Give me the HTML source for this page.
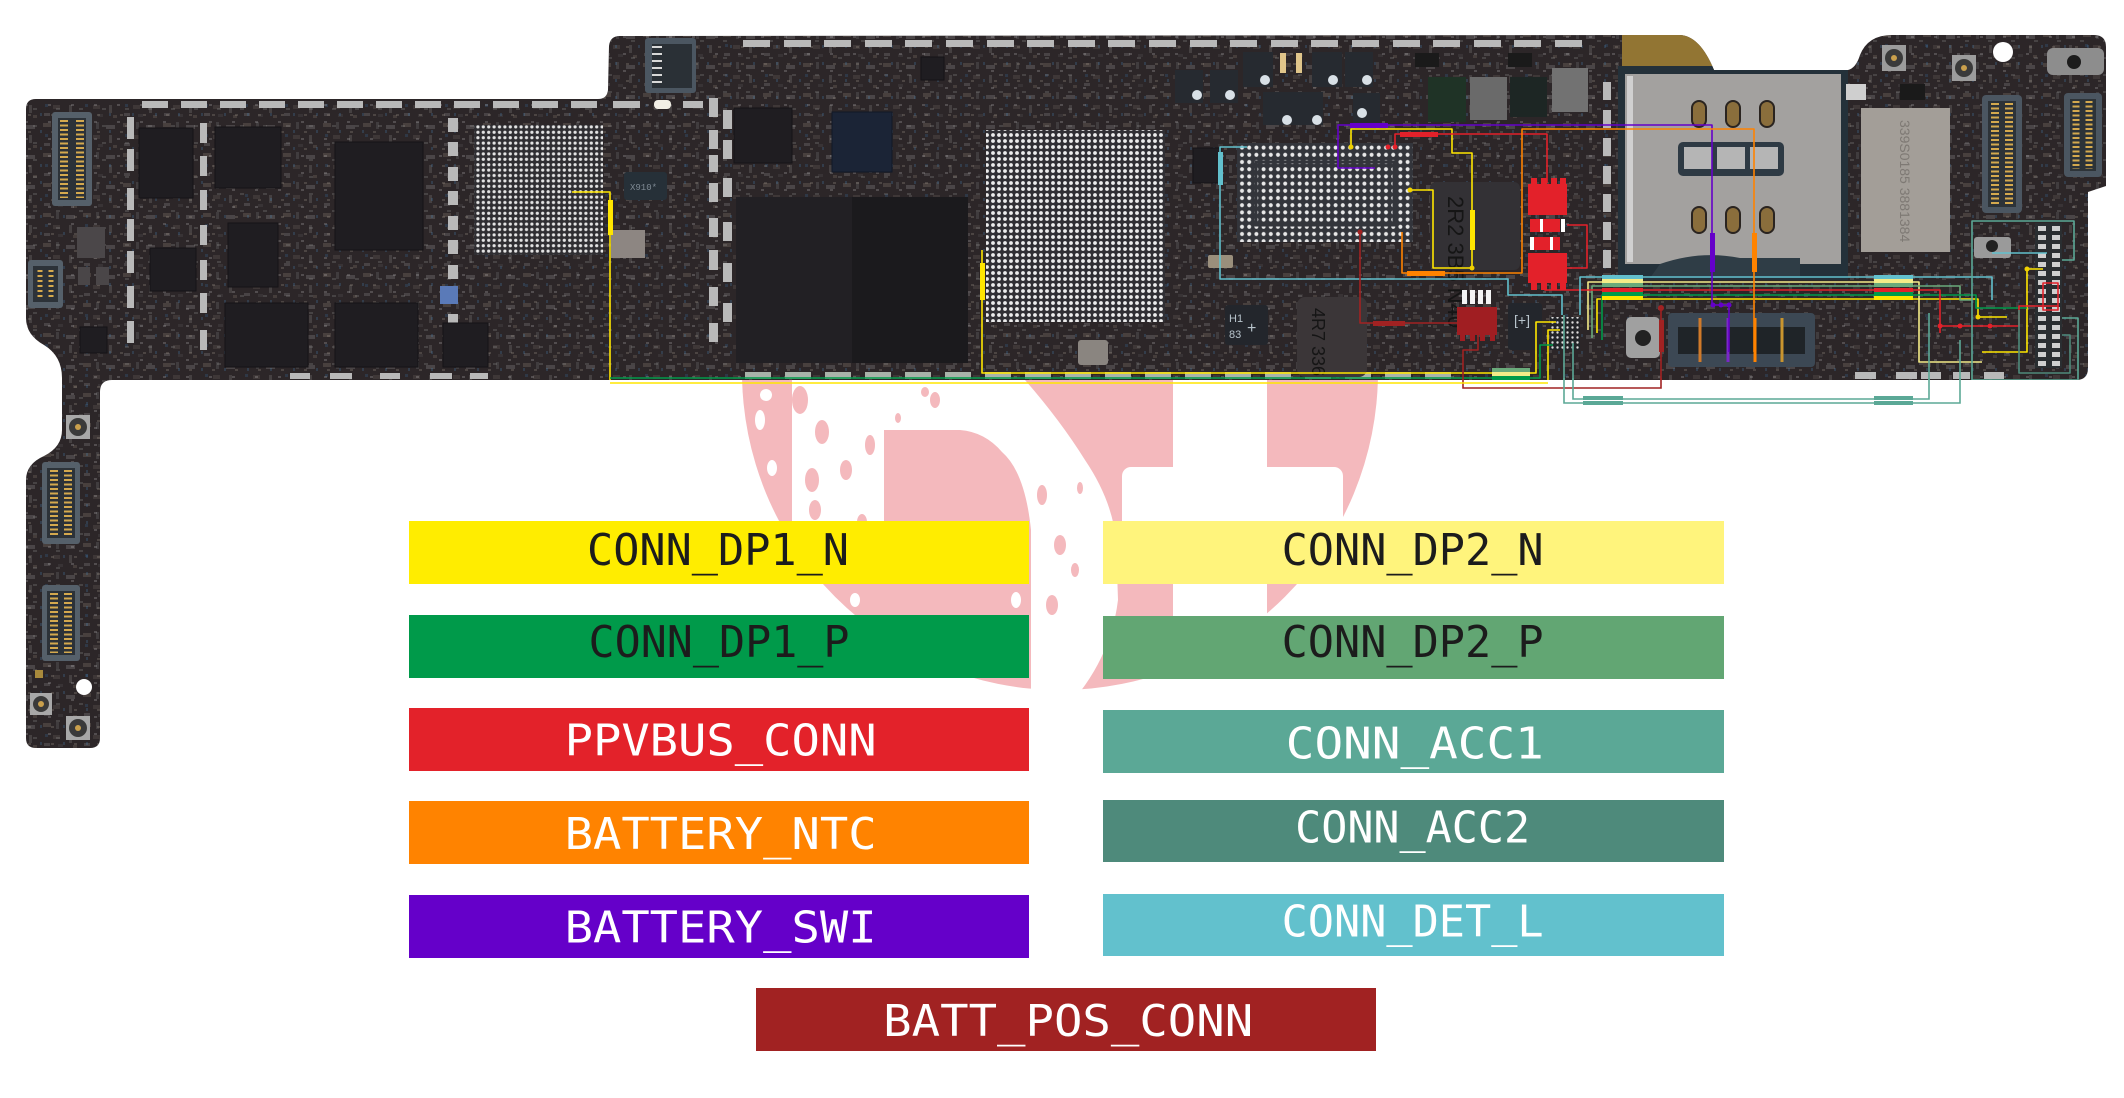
<!DOCTYPE html>
<html><head><meta charset="utf-8"><style>
html,body{margin:0;padding:0;background:#fff;width:2124px;height:1098px;overflow:hidden;}
svg{display:block;}
</style></head><body>
<svg width="2124" height="1098" viewBox="0 0 2124 1098" xmlns="http://www.w3.org/2000/svg">
<defs>
 <clipPath id="bclip"><path d="M36 99 L598 99 Q607 99 608 90 L609 46 Q610 36 620 36 L1680 35 Q1700 36 1714 70 L1848 70 Q1856 68 1860 55 Q1868 35 1892 35 L2094 35 Q2106 35 2106 47 L2106 186 L2088 192 L2088 368 Q2088 380 2076 380 L112 380 Q100 380 100 392 L100 738 Q100 748 90 748 L36 748 Q26 748 26 738 L26 480 Q26 464 44 456 Q62 447 62 430 L62 378 Q62 356 44 345 Q26 335 26 318 L26 109 Q26 99 36 99 Z"/></clipPath>
 <pattern id="smdA" width="40" height="30" patternUnits="userSpaceOnUse">
  <rect x="3" y="3" width="8" height="4" fill="#c7b8a0"/><rect x="16" y="2" width="3" height="7" fill="#9a9ea3"/>
  <rect x="26" y="5" width="9" height="4" fill="#d2d2d2"/><rect x="5" y="14" width="3" height="3" fill="#3e8bcc"/>
  <rect x="13" y="15" width="7" height="4" fill="#8f857a"/><rect x="29" y="15" width="3" height="8" fill="#b5b5b5"/>
  <rect x="4" y="23" width="6" height="3" fill="#c9c9c9"/><rect x="18" y="24" width="5" height="3" fill="#6f6f6f"/>
  <rect x="33" y="25" width="4" height="3" fill="#b8a892"/>
 </pattern>
 <pattern id="smdB" width="23" height="17" patternUnits="userSpaceOnUse">
  <rect x="2" y="2" width="3" height="2" fill="#d8d8d8"/><rect x="10" y="6" width="4" height="2" fill="#a8a8a8"/>
  <rect x="17" y="11" width="2" height="3" fill="#4a90c8"/><rect x="5" y="12" width="3" height="2" fill="#bdb2a2"/>
 </pattern>
 <pattern id="bga6" width="6" height="6" patternUnits="userSpaceOnUse"><circle cx="3" cy="3" r="1.9" fill="#ececec"/></pattern>
 <pattern id="bga7" width="7.2" height="7.2" patternUnits="userSpaceOnUse"><circle cx="3.6" cy="3.6" r="2" fill="#e8e8e8"/></pattern>
 <pattern id="bga5" width="5.4" height="5.4" patternUnits="userSpaceOnUse"><circle cx="2.7" cy="2.7" r="1.6" fill="#e4e4e4"/></pattern>
 <pattern id="dots4" width="5" height="5" patternUnits="userSpaceOnUse"><circle cx="2.5" cy="2.5" r="1.2" fill="#dcdcdc"/></pattern>
</defs>

<!-- watermark logo -->
<circle cx="1060" cy="372" r="318" fill="#f4b9bd"/>
<g fill="#fff">
 <path d="M792 380 L1025 380 Q1060 420 1085 460 Q1112 500 1116 540 L1118 600 Q1112 650 1080 692 L1031 692 L1031 530 Q1025 472 1002 452 Q985 432 960 430 L884 430 L884 560 L792 560 Z"/>
 <rect x="1173" y="370" width="94" height="360" rx="10"/>
 <rect x="1122" y="467" width="221" height="92" rx="9"/>
 <ellipse cx="760" cy="420" rx="5" ry="10"/><ellipse cx="772" cy="468" rx="5" ry="8"/>
 <ellipse cx="756" cy="502" rx="4" ry="7"/><ellipse cx="780" cy="532" rx="6" ry="9"/>
 <ellipse cx="766" cy="395" rx="6" ry="6"/>
 <ellipse cx="1000" cy="560" rx="4" ry="7"/><ellipse cx="1016" cy="600" rx="5" ry="8"/>
 <ellipse cx="992" cy="625" rx="3" ry="5"/><ellipse cx="855" cy="600" rx="5" ry="7"/>
</g>
<g fill="#f4b9bd">
 <ellipse cx="800" cy="400" rx="8" ry="14"/><ellipse cx="822" cy="432" rx="7" ry="12"/>
 <ellipse cx="846" cy="470" rx="6" ry="10"/><ellipse cx="812" cy="480" rx="7" ry="12"/>
 <ellipse cx="815" cy="510" rx="6" ry="10"/><ellipse cx="862" cy="522" rx="5" ry="8"/>
 <ellipse cx="870" cy="445" rx="5" ry="10"/><ellipse cx="935" cy="400" rx="5" ry="8"/>
 <ellipse cx="925" cy="392" rx="4" ry="5"/><ellipse cx="898" cy="418" rx="3" ry="5"/>
 <ellipse cx="1042" cy="495" rx="5" ry="10"/><ellipse cx="1060" cy="545" rx="6" ry="10"/>
 <ellipse cx="1075" cy="570" rx="4" ry="7"/><ellipse cx="1052" cy="605" rx="6" ry="10"/>
 <ellipse cx="1080" cy="488" rx="3" ry="6"/>
</g>

<!-- board -->
<g clip-path="url(#bclip)">
 <rect x="0" y="0" width="2124" height="760" fill="#2c2628"/>
 <rect x="0" y="0" width="2124" height="760" fill="url(#smdA)" opacity="0.18"/>
 <rect x="0" y="0" width="2124" height="760" fill="url(#smdB)" opacity="0.22"/>
 <!-- gold region -->
 <path d="M1622 30 L1680 30 Q1700 36 1716 72 L1622 72 Z" fill="#927533"/>
 <!-- SIM tray -->
 <rect x="1618" y="66" width="230" height="214" fill="#24313a"/>
 <rect x="1625" y="74" width="216" height="190" fill="#a3a19f"/>
 <rect x="1627" y="76" width="6" height="186" fill="#d0d0d0"/>
 <rect x="1678" y="142" width="106" height="34" rx="5" fill="#2e3a44"/>
 <rect x="1684" y="147" width="28" height="22" fill="#b5b5b5"/><rect x="1717" y="147" width="28" height="22" fill="#b5b5b5"/><rect x="1750" y="147" width="28" height="22" fill="#b5b5b5"/>
 <g fill="#8a6e3c" stroke="#2a2420" stroke-width="2">
  <rect x="1692" y="101" width="14" height="26" rx="7"/><rect x="1726" y="101" width="14" height="26" rx="7"/><rect x="1760" y="101" width="14" height="26" rx="7"/>
  <rect x="1692" y="207" width="14" height="26" rx="7"/><rect x="1726" y="207" width="14" height="26" rx="7"/><rect x="1760" y="207" width="14" height="26" rx="7"/>
 </g>
 <path d="M1660 264 Q1700 250 1740 258 L1800 258 L1800 278 L1650 278 Z" fill="#2f3d46"/>
 <!-- metal can -->
 <rect x="1861" y="108" width="89" height="144" fill="#a39e98"/>
 <text x="0" y="0" transform="translate(1900 120) rotate(90)" font-family="'Liberation Sans',sans-serif" font-size="14" fill="#7e7974">339S0185 3881384</text>

 <!-- tabs -->
 <g fill="#b9b9b9">
  <rect x="142" y="101" width="26" height="7"/><rect x="181" y="101" width="26" height="7"/><rect x="220" y="101" width="26" height="7"/><rect x="259" y="101" width="26" height="7"/><rect x="298" y="101" width="26" height="7"/><rect x="337" y="101" width="26" height="7"/><rect x="376" y="101" width="26" height="7"/><rect x="415" y="101" width="26" height="7"/><rect x="454" y="101" width="26" height="7"/><rect x="493" y="101" width="26" height="7"/><rect x="532" y="101" width="26" height="7"/><rect x="571" y="101" width="26" height="7"/><rect x="613" y="101" width="27" height="7"/><rect x="683" y="101" width="20" height="7"/>
  <rect x="743" y="40" width="27" height="7"/><rect x="784" y="40" width="27" height="7"/><rect x="824" y="40" width="27" height="7"/><rect x="865" y="40" width="27" height="7"/><rect x="905" y="40" width="27" height="7"/><rect x="946" y="40" width="27" height="7"/><rect x="987" y="40" width="27" height="7"/><rect x="1027" y="40" width="27" height="7"/><rect x="1068" y="40" width="27" height="7"/><rect x="1108" y="40" width="27" height="7"/><rect x="1149" y="40" width="27" height="7"/><rect x="1190" y="40" width="27" height="7"/><rect x="1230" y="40" width="27" height="7"/><rect x="1271" y="40" width="27" height="7"/><rect x="1311" y="40" width="27" height="7"/><rect x="1352" y="40" width="27" height="7"/><rect x="1393" y="40" width="27" height="7"/><rect x="1433" y="40" width="27" height="7"/><rect x="1474" y="40" width="27" height="7"/><rect x="1514" y="40" width="27" height="7"/><rect x="1555" y="40" width="27" height="7"/>
  <rect x="127" y="117" width="7" height="22"/><rect x="127" y="149" width="7" height="22"/><rect x="127" y="188" width="7" height="22"/><rect x="127" y="219" width="7" height="22"/><rect x="127" y="251" width="7" height="22"/><rect x="127" y="286" width="7" height="22"/><rect x="127" y="321" width="7" height="22"/>
  <rect x="200" y="123" width="7" height="20"/><rect x="200" y="156" width="7" height="20"/><rect x="200" y="190" width="7" height="20"/><rect x="200" y="225" width="7" height="20"/><rect x="200" y="260" width="7" height="20"/><rect x="200" y="293" width="7" height="20"/><rect x="200" y="330" width="7" height="20"/>
  <rect x="448" y="118" width="10" height="14"/><rect x="448" y="142" width="10" height="14"/><rect x="448" y="167" width="10" height="14"/><rect x="448" y="191" width="10" height="14"/><rect x="448" y="216" width="10" height="14"/><rect x="448" y="240" width="10" height="14"/><rect x="448" y="265" width="10" height="14"/><rect x="448" y="289" width="10" height="14"/><rect x="448" y="314" width="10" height="14"/><rect x="448" y="338" width="10" height="14"/>
  <rect x="709" y="98" width="9" height="19"/><rect x="709" y="130" width="9" height="19"/><rect x="709" y="155" width="9" height="17"/><rect x="709" y="183" width="9" height="19"/><rect x="709" y="218" width="9" height="19"/><rect x="709" y="250" width="9" height="20"/><rect x="709" y="287" width="9" height="19"/><rect x="709" y="323" width="9" height="19"/>
  <rect x="723" y="110" width="9" height="19"/><rect x="723" y="140" width="9" height="19"/><rect x="723" y="178" width="9" height="19"/><rect x="723" y="222" width="9" height="19"/><rect x="723" y="263" width="9" height="19"/><rect x="723" y="303" width="9" height="19"/>
  <rect x="1603" y="82" width="8" height="18"/><rect x="1603" y="110" width="8" height="18"/><rect x="1603" y="138" width="8" height="18"/><rect x="1603" y="166" width="8" height="18"/><rect x="1603" y="194" width="8" height="18"/><rect x="1603" y="222" width="8" height="18"/><rect x="1603" y="250" width="8" height="18"/>
  <rect x="1855" y="372" width="21" height="7"/><rect x="1896" y="372" width="21" height="7"/><rect x="1921" y="372" width="20" height="7"/><rect x="1953" y="372" width="17" height="7"/><rect x="1984" y="372" width="20" height="7"/>
  <rect x="290" y="373" width="20" height="6"/><rect x="330" y="373" width="22" height="6"/><rect x="380" y="373" width="20" height="6"/><rect x="430" y="373" width="22" height="6"/><rect x="470" y="373" width="18" height="6"/>
 </g>
 <rect x="654" y="100" width="17" height="9" rx="4" fill="#f2efe6"/>
 <g fill="#a9b3aa">
  <rect x="745" y="372" width="26" height="7"/><rect x="785" y="372" width="26" height="7"/><rect x="825" y="372" width="26" height="7"/><rect x="865" y="372" width="26" height="7"/><rect x="905" y="372" width="26" height="7"/><rect x="945" y="372" width="26" height="7"/><rect x="985" y="372" width="26" height="7"/><rect x="1025" y="372" width="26" height="7"/><rect x="1065" y="372" width="26" height="7"/><rect x="1105" y="372" width="26" height="7"/><rect x="1145" y="372" width="26" height="7"/><rect x="1185" y="372" width="26" height="7"/><rect x="1225" y="372" width="26" height="7"/><rect x="1265" y="372" width="26" height="7"/><rect x="1305" y="372" width="26" height="7"/><rect x="1345" y="372" width="26" height="7"/><rect x="1385" y="372" width="26" height="7"/><rect x="1425" y="372" width="26" height="7"/>
 </g>

 <!-- chips -->
 <g fill="#1f1d21" stroke="#151316" stroke-width="1">
  <rect x="139" y="128" width="54" height="70"/><rect x="215" y="127" width="66" height="61"/>
  <rect x="335" y="142" width="88" height="108"/><rect x="150" y="248" width="46" height="43"/>
  <rect x="228" y="223" width="50" height="64"/><rect x="225" y="303" width="83" height="64"/>
  <rect x="335" y="303" width="83" height="64"/><rect x="443" y="323" width="45" height="44"/>
  <rect x="80" y="327" width="27" height="26"/><rect x="734" y="108" width="58" height="55"/>
  <rect x="921" y="57" width="23" height="23"/><rect x="1193" y="148" width="28" height="35"/>
 </g>
 <rect x="77" y="227" width="28" height="31" fill="#4b4749"/>
 <rect x="78" y="267" width="12" height="18" fill="#4a4648"/><rect x="96" y="267" width="13" height="18" fill="#4a4648"/>
 <rect x="440" y="286" width="18" height="18" fill="#5a7ab8"/>
 <rect x="832" y="112" width="60" height="60" fill="#1b2436" stroke="#111826"/>
 <rect x="736" y="197" width="116" height="166" fill="#222024"/><rect x="852" y="197" width="116" height="166" fill="#1b1a1d"/>
 <rect x="624" y="172" width="43" height="28" rx="3" fill="#263038"/>
 <text x="630" y="190" font-family="'Liberation Mono',monospace" font-size="9" fill="#7f8a94">X910*</text>
 <rect x="611" y="230" width="34" height="28" fill="#8d8682"/>
 <rect x="1078" y="340" width="30" height="25" rx="3" fill="#8a8580"/>
 <rect x="1208" y="255" width="25" height="13" rx="2" fill="#9a8f7c"/>

 <!-- BGAs -->
 <rect x="474" y="125" width="129" height="130" fill="#2f2e32"/>
 <rect x="474" y="125" width="129" height="130" fill="url(#bga5)"/>
 <rect x="986" y="130" width="179" height="192" fill="#302f34"/>
 <rect x="986" y="130" width="179" height="192" fill="url(#bga6)"/>
 <rect x="1237" y="143" width="176" height="99" fill="#33353b"/>
 <rect x="1237" y="143" width="176" height="99" fill="url(#bga7)"/>
 <rect x="1256" y="162" width="138" height="63" fill="none" stroke="#33353b" stroke-width="3"/>

 <!-- top dark parts with white circles -->
 <g fill="#262a30">
  <rect x="1175" y="70" width="28" height="33"/><rect x="1210" y="70" width="28" height="33"/><rect x="1243" y="52" width="30" height="35"/><rect x="1263" y="92" width="30" height="33"/><rect x="1293" y="92" width="30" height="33"/><rect x="1312" y="52" width="30" height="35"/><rect x="1345" y="52" width="28" height="35"/><rect x="1353" y="93" width="27" height="32"/>
 </g>
 <g fill="#d8e0e6">
  <circle cx="1197" cy="95" r="5"/><circle cx="1230" cy="95" r="5"/><circle cx="1265" cy="80" r="5"/><circle cx="1287" cy="120" r="5"/><circle cx="1317" cy="120" r="5"/><circle cx="1333" cy="80" r="5"/><circle cx="1367" cy="80" r="5"/><circle cx="1362" cy="113" r="5"/>
 </g>
 <rect x="1280" y="53" width="6" height="20" fill="#e0c58a"/><rect x="1296" y="53" width="6" height="20" fill="#e0c58a"/>
 <rect x="1470" y="77" width="37" height="43" fill="#6a6a6a"/><rect x="1552" y="68" width="36" height="44" fill="#727272"/>
 <rect x="1428" y="77" width="38" height="45" fill="#1f3326"/><rect x="1510" y="77" width="37" height="40" fill="#1d2624"/>
 <rect x="1415" y="53" width="24" height="14" fill="#1a1a1a"/><rect x="1508" y="53" width="24" height="14" fill="#1a1a1a"/>

 <!-- inductors -->
 <rect x="1430" y="182" width="90" height="88" rx="6" fill="#333135"/>
 <text transform="translate(1448 196) rotate(90)" font-family="'Liberation Sans',sans-serif" font-size="22" fill="#151515">2R2 3B5 N40</text>
 <rect x="1297" y="297" width="70" height="80" rx="8" fill="#3b3638"/>
 <text transform="translate(1312 308) rotate(90)" font-family="'Liberation Sans',sans-serif" font-size="18" fill="#151515">4R7 336 8AT</text>
 <rect x="1225" y="305" width="43" height="40" rx="3" fill="#23262c"/>
 <text x="1229" y="322" font-family="'Liberation Sans',sans-serif" font-size="11" fill="#b8c4cc">H1</text>
 <text x="1229" y="338" font-family="'Liberation Sans',sans-serif" font-size="11" fill="#b8c4cc">83</text>
 <text x="1247" y="333" font-family="'Liberation Sans',sans-serif" font-size="16" fill="#b8c4cc">+</text>
 <rect x="1508" y="303" width="34" height="47" rx="3" fill="#23262c"/>
 <text x="1514" y="325" font-family="'Liberation Sans',sans-serif" font-size="14" fill="#b8c4cc">[+]</text>

 <!-- red parts -->
 <g fill="#e3212a">
  <rect x="1528" y="184" width="39" height="31"/><rect x="1531" y="178" width="6" height="8"/><rect x="1541" y="178" width="6" height="8"/><rect x="1551" y="178" width="6" height="8"/><rect x="1560" y="178" width="6" height="8"/>
  <rect x="1530" y="219" width="30" height="13"/><rect x="1530" y="237" width="30" height="13"/>
  <rect x="1528" y="253" width="39" height="30"/><rect x="1531" y="282" width="6" height="8"/><rect x="1541" y="282" width="6" height="8"/><rect x="1551" y="282" width="6" height="8"/><rect x="1560" y="282" width="6" height="8"/>
 </g>
 <g fill="#ffffff"><rect x="1540" y="219" width="3" height="13"/><rect x="1561" y="219" width="4" height="13"/><rect x="1530" y="237" width="4" height="13"/><rect x="1550" y="237" width="3" height="13"/></g>
 <rect x="1457" y="307" width="40" height="28" fill="#a01e22"/>
 <g fill="#a01e22"><rect x="1460" y="334" width="5" height="7"/><rect x="1470" y="334" width="5" height="7"/><rect x="1480" y="334" width="5" height="7"/><rect x="1490" y="334" width="5" height="7"/></g>
 <g fill="#f4f4f4"><rect x="1462" y="290" width="5" height="14"/><rect x="1470" y="290" width="5" height="14"/><rect x="1478" y="290" width="5" height="14"/><rect x="1486" y="290" width="5" height="14"/></g>
 <rect x="1550" y="317" width="30" height="33" fill="#222529"/>
 <rect x="1550" y="317" width="30" height="33" fill="url(#dots4)"/>

 <!-- connectors -->
 <rect x="52" y="112" width="40" height="94" rx="3" fill="#55606a"/><rect x="58" y="118" width="28" height="82" fill="#2c3238"/>
 <line x1="64" y1="120" x2="64" y2="198" stroke="#d4a94e" stroke-width="8" stroke-dasharray="2 2.5"/><line x1="80" y1="120" x2="80" y2="198" stroke="#d4a94e" stroke-width="8" stroke-dasharray="2 2.5"/>
 <rect x="28" y="260" width="35" height="48" rx="3" fill="#55606a"/><rect x="33" y="266" width="25" height="36" fill="#2c3238"/>
 <line x1="40" y1="270" x2="40" y2="298" stroke="#d4a94e" stroke-width="5" stroke-dasharray="2 3"/><line x1="51" y1="270" x2="51" y2="298" stroke="#d4a94e" stroke-width="5" stroke-dasharray="2 3"/>
 <rect x="42" y="462" width="38" height="82" rx="3" fill="#55606a"/><rect x="47" y="468" width="28" height="70" fill="#2c3238"/>
 <line x1="54" y1="470" x2="54" y2="536" stroke="#d4a94e" stroke-width="8" stroke-dasharray="2 2.5"/><line x1="68" y1="470" x2="68" y2="536" stroke="#d4a94e" stroke-width="8" stroke-dasharray="2 2.5"/>
 <rect x="42" y="585" width="38" height="76" rx="3" fill="#55606a"/><rect x="47" y="591" width="28" height="64" fill="#2c3238"/>
 <line x1="54" y1="593" x2="54" y2="653" stroke="#d4a94e" stroke-width="8" stroke-dasharray="2 2.5"/><line x1="68" y1="593" x2="68" y2="653" stroke="#d4a94e" stroke-width="8" stroke-dasharray="2 2.5"/>
 <rect x="645" y="38" width="51" height="55" rx="3" fill="#4b5661"/><rect x="652" y="44" width="40" height="44" fill="#2a3036"/>
 <line x1="657" y1="46" x2="657" y2="86" stroke="#d8d8d8" stroke-width="10" stroke-dasharray="2 5"/>
 <rect x="1982" y="95" width="40" height="118" rx="4" fill="#4b5661"/><rect x="1988" y="101" width="28" height="106" fill="#2d3338"/>
 <line x1="1995" y1="103" x2="1995" y2="205" stroke="#d4a94e" stroke-width="8" stroke-dasharray="2 2.5"/><line x1="2009" y1="103" x2="2009" y2="205" stroke="#d4a94e" stroke-width="8" stroke-dasharray="2 2.5"/>
 <rect x="2064" y="93" width="38" height="84" rx="4" fill="#4b5661"/><rect x="2070" y="99" width="26" height="72" fill="#2d3338"/>
 <line x1="2076" y1="101" x2="2076" y2="169" stroke="#d4a94e" stroke-width="7" stroke-dasharray="2 2.5"/><line x1="2089" y1="101" x2="2089" y2="169" stroke="#d4a94e" stroke-width="7" stroke-dasharray="2 2.5"/>
 <rect x="2035" y="223" width="27" height="145" fill="#2a2e31"/>
 <line x1="2042" y1="226" x2="2042" y2="366" stroke="#cfcfcf" stroke-width="8" stroke-dasharray="5 4"/><line x1="2056" y1="226" x2="2056" y2="366" stroke="#cfcfcf" stroke-width="8" stroke-dasharray="5 4"/>

 <!-- battery connector -->
 <rect x="1668" y="313" width="147" height="54" rx="4" fill="#3c4854"/><rect x="1678" y="327" width="127" height="27" fill="#1f2428"/>
 <g stroke-width="3"><line x1="1700" y1="318" x2="1700" y2="362" stroke="#d07a2a"/><line x1="1728" y1="318" x2="1728" y2="362" stroke="#7a28c8"/><line x1="1755" y1="318" x2="1755" y2="362" stroke="#ff8300"/><line x1="1782" y1="318" x2="1782" y2="362" stroke="#c9952e"/></g>
 <rect x="1626" y="317" width="34" height="41" rx="5" fill="#a0a0a0"/><circle cx="1643" cy="338" r="8" fill="#222"/>
 <rect x="1974" y="237" width="37" height="21" rx="3" fill="#9a9a9a"/><circle cx="1992" cy="246" r="6" fill="#222"/>

 <!-- coax / holes -->
 <rect x="66" y="415" width="24" height="24" fill="#a8a8a8"/><circle cx="78" cy="427" r="9" fill="#3a3a3a"/><circle cx="78" cy="427" r="3" fill="#c9a04c"/>
 <rect x="30" y="693" width="22" height="22" fill="#a8a8a8"/><circle cx="41" cy="704" r="8" fill="#3a3a3a"/><circle cx="41" cy="704" r="3" fill="#c9a04c"/>
 <rect x="66" y="716" width="24" height="24" fill="#a8a8a8"/><circle cx="78" cy="728" r="9" fill="#3a3a3a"/><circle cx="78" cy="728" r="3" fill="#c9a04c"/>
 <circle cx="84" cy="687" r="8" fill="#ffffff"/><rect x="35" y="670" width="8" height="8" fill="#a88a3c"/>
 <rect x="1882" y="45" width="24" height="26" fill="#9c9c9c"/><circle cx="1894" cy="58" r="9" fill="#3a3a3a"/><circle cx="1894" cy="58" r="3" fill="#c9a04c"/>
 <rect x="1952" y="55" width="24" height="26" fill="#9c9c9c"/><circle cx="1964" cy="68" r="9" fill="#3a3a3a"/><circle cx="1964" cy="68" r="3" fill="#c9a04c"/>
 <circle cx="2003" cy="52" r="10" fill="#ffffff"/>
 <rect x="2047" y="48" width="57" height="27" rx="6" fill="#8d8d8d"/><circle cx="2074" cy="62" r="7" fill="#1c1c1c"/>
 <rect x="1846" y="84" width="20" height="16" fill="#cfcfcf"/><rect x="1900" y="84" width="25" height="16" fill="#1a1a1a"/>

 <!-- traces -->
 <g fill="none" stroke-width="1.6" stroke-linejoin="round">
  <path d="M572 192 L610 192 L610 384 L1548 384 L1548 330 L1560 330" stroke="#ffe600"/>
  <path d="M610 378 L1540 378 L1540 345 L1553 345" stroke="#009a4a"/>
  <path d="M982 250 L982 373 L1536 373 L1536 322 L1556 322" stroke="#ffe600"/>
  <path d="M1351 147 L1351 129 L1452 129 L1452 153 L1472 153 L1472 268 L1433 268 L1433 190 L1410 190" stroke="#ffe600"/>
  <path d="M1597 333 L1597 299 L1978 299 L1978 317 L2007 317" stroke="#ffe600"/>
  <path d="M2043 269 L2027 269 L2027 352 L1982 352" stroke="#ffe600"/>
  <path d="M1588 330 L1588 282 L1919 282 L1919 362 L1982 362" stroke="#f4ec88"/>
  <path d="M1592 338 L1592 286 L1960 286 L1960 300 L1972 300" stroke="#6aaa7a"/>
  <path d="M1602 340 L1602 295 L1976 295 L1976 308 L2027 308" stroke="#009a4a"/>
  <path d="M1545 285 L1545 290 L1940 290 L1940 333 M1940 326 L2019 326 L2019 306 L2058 306" stroke="#e3212a"/>
  <path d="M1395 147 L1395 134 L1547 134 L1547 183 M1567 225 L1587 225 L1587 268 L1567 268" stroke="#e3212a"/>
  <rect x="2043" y="283" width="15" height="27" stroke="#e3212a"/>
  <path d="M1247 147 L1220 147 L1220 279 L1508 279 L1508 295 L1562 295 L1562 315" stroke="#62c0cd"/>
  <path d="M1580 315 L1580 277 L1992 277 L1992 300 M1992 253 L2047 253" stroke="#62c0cd"/>
  <path d="M1375 168 L1338 168 L1338 125 L1712 125 L1712 305 L1729 305 L1729 352" stroke="#6500c9"/>
  <path d="M1402 232 L1402 273 L1522 273 L1522 129 L1754 129 L1754 352" stroke="#ff8300"/>
  <path d="M1360 232 L1360 323 L1458 323 M1478 335 L1478 350 L1463 350 L1463 388 L1661 388 L1661 308" stroke="#a12222"/>
  <path d="M1564 315 L1564 403 L1960 403 L1960 340 M1573 343 L1573 399 L1929 399 L1929 313" stroke="#5ba896"/>
  <path d="M1972 380 L1972 221 L2074 221 L2074 260 L2062 260 M1972 380 L2078 380 L2078 318 L2062 318" stroke="#5ba896"/>
  <path d="M2019 310 L2019 373 L2070 373 L2070 335 L2062 335" stroke="#4e8a7b"/>
 </g>
 <!-- trace labels -->
 <rect x="1350" y="123" width="38" height="5" fill="#6500c9"/>
 <rect x="1400" y="132" width="38" height="5" fill="#e3212a"/>
 <rect x="1407" y="271" width="38" height="5" fill="#ff8300"/>
 <rect x="1373" y="321" width="32" height="5" fill="#a12222"/>
 <rect x="1710" y="233" width="5" height="39" fill="#6500c9"/>
 <rect x="1752" y="233" width="5" height="39" fill="#ff8300"/>
 <rect x="1659" y="320" width="5" height="32" fill="#a12222"/>
 <rect x="1470" y="210" width="5" height="40" fill="#ffe600"/>
 <rect x="1218" y="152" width="5" height="33" fill="#62c0cd"/>
 <rect x="608" y="200" width="5" height="35" fill="#ffe600"/>
 <rect x="980" y="263" width="5" height="37" fill="#ffe600"/>
 <g>
  <rect x="1602" y="275" width="41" height="4" fill="#62c0cd"/><rect x="1602" y="279" width="41" height="4" fill="#f4ec88"/><rect x="1602" y="283" width="41" height="4" fill="#6aaa7a"/><rect x="1602" y="288" width="41" height="4" fill="#e3212a"/><rect x="1602" y="292" width="41" height="4" fill="#009a4a"/><rect x="1602" y="296" width="41" height="4" fill="#ffe600"/>
  <rect x="1874" y="275" width="39" height="4" fill="#62c0cd"/><rect x="1874" y="279" width="39" height="4" fill="#f4ec88"/><rect x="1874" y="283" width="39" height="4" fill="#6aaa7a"/><rect x="1874" y="288" width="39" height="4" fill="#e3212a"/><rect x="1874" y="292" width="39" height="4" fill="#009a4a"/><rect x="1874" y="296" width="39" height="4" fill="#ffe600"/>
  <rect x="1492" y="368" width="38" height="4" fill="#6aaa7a"/><rect x="1492" y="372" width="38" height="4" fill="#f4ec88"/><rect x="1492" y="376" width="38" height="4" fill="#009a4a"/><rect x="1492" y="380" width="38" height="4" fill="#ffe600"/>
 </g>
 <g fill="#f0d000"><circle cx="1351" cy="147" r="2.5"/><circle cx="1410" cy="190" r="2.5"/><circle cx="1472" cy="268" r="2.5"/><circle cx="2027" cy="269" r="2.5"/><circle cx="1978" cy="317" r="2.5"/></g>
 <g fill="#e3212a"><circle cx="1388" cy="147" r="2.5"/><circle cx="1395" cy="147" r="2.5"/><circle cx="1940" cy="326" r="2.5"/><circle cx="1960" cy="326" r="2.5"/><circle cx="1990" cy="326" r="2.5"/></g>
 <g fill="#6500c9"><circle cx="1713" cy="305" r="2.5"/><circle cx="1721" cy="305" r="2.5"/><circle cx="1729" cy="305" r="2.5"/></g>
 <g fill="#a12222"><circle cx="1661" cy="308" r="3"/><circle cx="1360" cy="232" r="2.5"/></g>
</g>

<!-- lines outside board -->
<g fill="none" stroke-width="1.6">
 <path d="M1463 380 L1463 388 L1661 388 L1661 378" stroke="#a12222"/>
 <path d="M1564 378 L1564 403 L1960 403 L1960 378" stroke="#5ba896"/>
 <path d="M1573 378 L1573 399 L1929 399 L1929 378" stroke="#5ba896"/>
 <path d="M610 383 L1548 383" stroke="#ffe600"/>
</g>
<rect x="1583" y="396" width="40" height="4" fill="#5ba896"/><rect x="1583" y="401" width="40" height="4" fill="#5ba896"/>
<rect x="1874" y="396" width="39" height="4" fill="#5ba896"/><rect x="1874" y="401" width="39" height="4" fill="#5ba896"/>

<!-- legend -->
<rect x="409" y="521" width="620" height="63" fill="#ffed00"/>
<rect x="409" y="615" width="620" height="63" fill="#009a4a"/>
<rect x="409" y="708" width="620" height="63" fill="#e3222a"/>
<rect x="409" y="801" width="620" height="63" fill="#ff8300"/>
<rect x="409" y="895" width="620" height="63" fill="#6500c9"/>
<rect x="1103" y="521" width="621" height="63" fill="#fff47c"/>
<rect x="1103" y="616" width="621" height="63" fill="#62a673"/>
<rect x="1103" y="710" width="621" height="63" fill="#5ba896"/>
<rect x="1103" y="800" width="621" height="62" fill="#4e8a7b"/>
<rect x="1103" y="894" width="621" height="62" fill="#62c1cd"/>
<rect x="756" y="988" width="620" height="63" fill="#a12222"/>
<g font-family="'DejaVu Sans Mono','Liberation Mono',monospace" font-size="44">
 <text x="587" y="565" textLength="262" lengthAdjust="spacingAndGlyphs" fill="#1c1c1c">CONN_DP1_N</text>
 <text x="588.5" y="657" textLength="261" lengthAdjust="spacingAndGlyphs" fill="#1c1c1c">CONN_DP1_P</text>
 <text x="564.6" y="755.5" textLength="312" lengthAdjust="spacingAndGlyphs" fill="#ffffff">PPVBUS_CONN</text>
 <text x="564.6" y="849" textLength="312" lengthAdjust="spacingAndGlyphs" fill="#ffffff">BATTERY_NTC</text>
 <text x="564.6" y="942.4" textLength="312" lengthAdjust="spacingAndGlyphs" fill="#ffffff">BATTERY_SWI</text>
 <text x="1281.6" y="565" textLength="262" lengthAdjust="spacingAndGlyphs" fill="#1c1c1c">CONN_DP2_N</text>
 <text x="1281.6" y="657" textLength="262" lengthAdjust="spacingAndGlyphs" fill="#1c1c1c">CONN_DP2_P</text>
 <text x="1285.8" y="758.6" textLength="258" lengthAdjust="spacingAndGlyphs" fill="#ffffff">CONN_ACC1</text>
 <text x="1295.1" y="842.5" textLength="235" lengthAdjust="spacingAndGlyphs" fill="#ffffff">CONN_ACC2</text>
 <text x="1281.6" y="936.7" textLength="262" lengthAdjust="spacingAndGlyphs" fill="#ffffff">CONN_DET_L</text>
 <text x="883.2" y="1036" textLength="370" lengthAdjust="spacingAndGlyphs" fill="#ffffff">BATT_POS_CONN</text>
</g>
</svg>
</body></html>
